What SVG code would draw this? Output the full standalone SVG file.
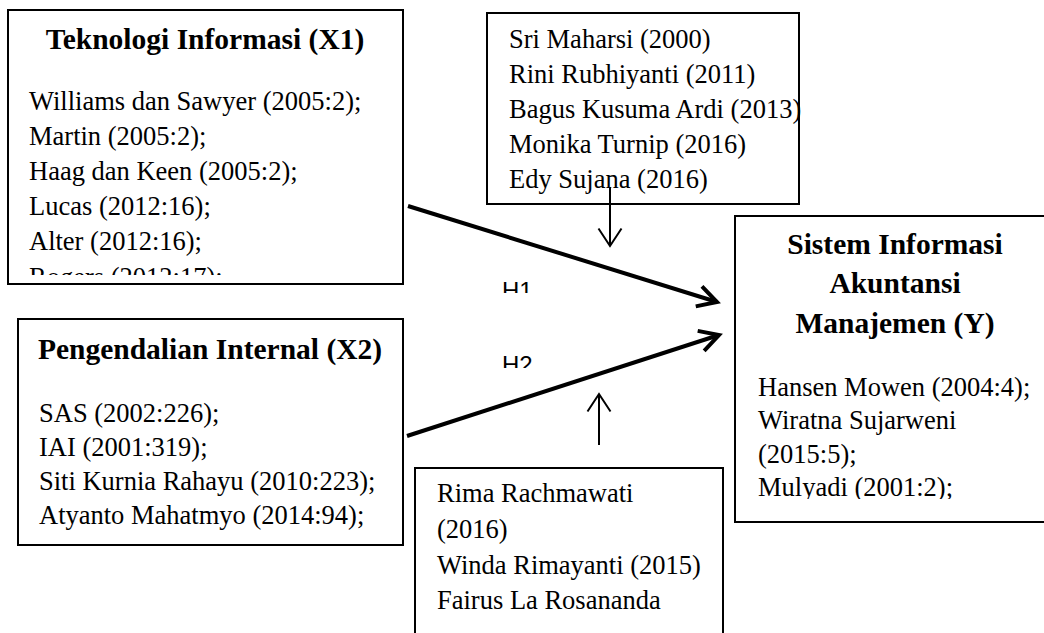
<svg xmlns="http://www.w3.org/2000/svg" width="1044" height="633" viewBox="0 0 1044 633">
  <style>
    .box { fill: #fff; stroke: #000; stroke-width: 2; }
    .t { font-family: "Liberation Serif", "Times New Roman", serif; font-size: 26.5px; fill: #000; }
    .h { font-family: "Liberation Serif", "Times New Roman", serif; font-size: 29.5px; font-weight: bold; fill: #000; text-anchor: middle; }
    .lbl { font-family: "Liberation Sans", Arial, sans-serif; font-size: 24px; fill: #000; }
    .thick { fill: none; stroke: #000; stroke-width: 4; }
    .thin { fill: none; stroke: #000; stroke-width: 2; }
  </style>
  <defs>
    <marker id="ahThick" markerUnits="userSpaceOnUse" markerWidth="40" markerHeight="40" viewBox="-30 -20 40 40" refX="0" refY="0" orient="auto" overflow="visible">
      <path d="M-19,-10.5 L0,0 L-19,10.5" fill="none" stroke="#000" stroke-width="4"/>
    </marker>
    <marker id="ahThin" markerUnits="userSpaceOnUse" markerWidth="40" markerHeight="40" viewBox="-30 -20 40 40" refX="0" refY="0" orient="auto" overflow="visible">
      <path d="M-17.5,-11.5 L0,0 L-17.5,11.5" fill="none" stroke="#000" stroke-width="2"/>
    </marker>
    <clipPath id="clipX1"><rect x="8" y="10" width="395" height="265"/></clipPath>
    <clipPath id="clipY"><rect x="735" y="216" width="320" height="283"/></clipPath>
    <clipPath id="clipH1"><rect x="480" y="270" width="80" height="23"/></clipPath>
    <clipPath id="clipH2"><rect x="480" y="345" width="80" height="23"/></clipPath>
  </defs>

  <g id="node-x1">
    <rect class="box" x="8" y="10" width="395" height="274"/>
    <text class="h" x="205" y="49">Teknologi Informasi (X1)</text>
    <g clip-path="url(#clipX1)">
      <text class="t" x="29" y="110">Williams dan Sawyer (2005:2);</text>
      <text class="t" x="29" y="145">Martin (2005:2);</text>
      <text class="t" x="29" y="180">Haag dan Keen (2005:2);</text>
      <text class="t" x="29" y="215">Lucas (2012:16);</text>
      <text class="t" x="29" y="250">Alter (2012:16);</text>
      <text class="t" x="29" y="286">Rogers (2012:17);</text>
    </g>
  </g>

  <g id="node-x2">
    <rect class="box" x="18" y="319" width="385" height="226"/>
    <text class="h" x="210" y="359">Pengendalian Internal (X2)</text>
    <text class="t" x="39" y="422">SAS (2002:226);</text>
    <text class="t" x="39" y="456">IAI (2001:319);</text>
    <text class="t" x="39" y="490">Siti Kurnia Rahayu (2010:223);</text>
    <text class="t" x="39" y="524">Atyanto Mahatmyo (2014:94);</text>
  </g>

  <g id="node-mod1">
    <rect class="box" x="487" y="13" width="312" height="191"/>
    <text class="t" x="509" y="48">Sri Maharsi (2000)</text>
    <text class="t" x="509" y="83">Rini Rubhiyanti (2011)</text>
    <text class="t" x="509" y="118">Bagus Kusuma Ardi (2013)</text>
    <text class="t" x="509" y="153">Monika Turnip (2016)</text>
    <text class="t" x="509" y="188">Edy Sujana (2016)</text>
  </g>

  <g id="node-y">
    <rect class="box" x="735" y="216" width="330" height="306"/>
    <text class="h" x="895" y="254">Sistem Informasi</text>
    <text class="h" x="895" y="293">Akuntansi</text>
    <text class="h" x="895" y="333">Manajemen (Y)</text>
    <g clip-path="url(#clipY)">
      <text class="t" x="758" y="396">Hansen Mowen (2004:4);</text>
      <text class="t" x="758" y="429">Wiratna Sujarweni</text>
      <text class="t" x="758" y="463">(2015:5);</text>
      <text class="t" x="758" y="496">Mulyadi (2001:2);</text>
    </g>
  </g>

  <g id="node-mod2">
    <rect class="box" x="415" y="468" width="308" height="200"/>
    <text class="t" x="437" y="502">Rima Rachmawati</text>
    <text class="t" x="437" y="538">(2016)</text>
    <text class="t" x="437" y="574">Winda Rimayanti (2015)</text>
    <text class="t" x="437" y="609">Fairus La Rosananda</text>
  </g>

  <g id="labels">
    <text class="lbl" x="502" y="299" clip-path="url(#clipH1)">H1</text>
    <text class="lbl" x="502" y="373" clip-path="url(#clipH2)">H2</text>
  </g>

  <g id="connectors">
    <line class="thick" x1="408" y1="206" x2="717" y2="302" marker-end="url(#ahThick)"/>
    <line class="thick" x1="407" y1="436" x2="719" y2="335" marker-end="url(#ahThick)"/>
    <line class="thin" x1="610" y1="187" x2="610" y2="246" marker-end="url(#ahThin)"/>
    <line class="thin" x1="599" y1="445" x2="599" y2="394" marker-end="url(#ahThin)"/>
  </g>
</svg>
